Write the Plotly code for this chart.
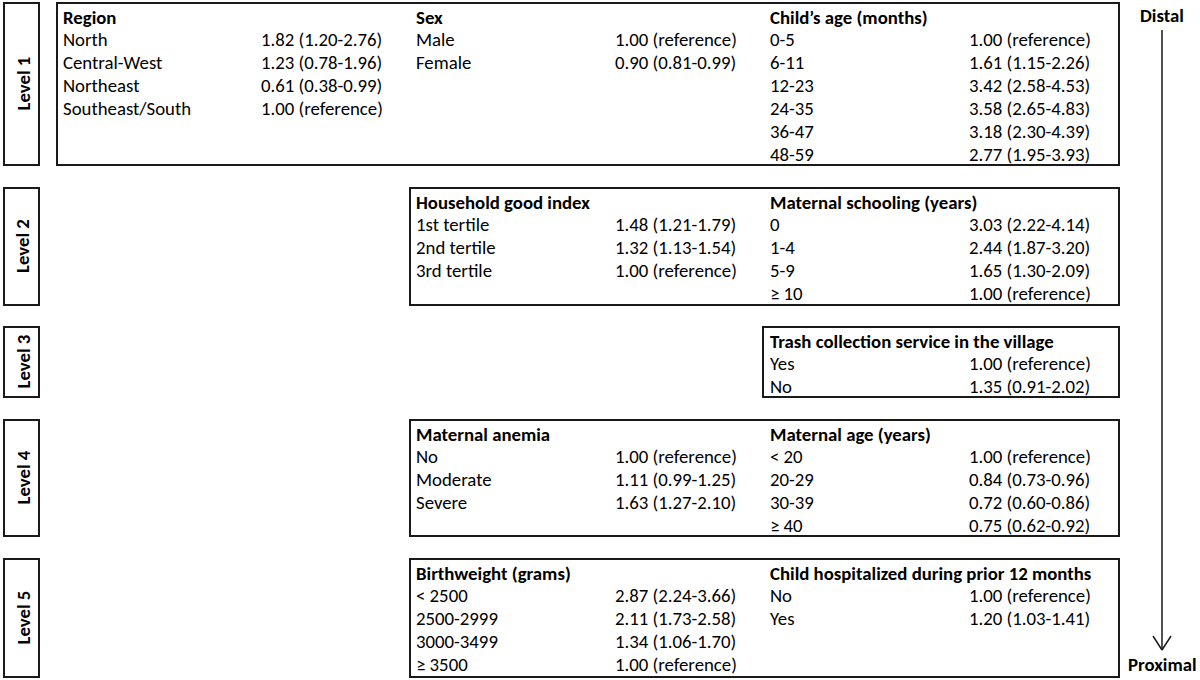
import plotly.graph_objects as go

# ---------------- data ----------------
LEVEL_NAMES = ["Level 1", "Level 2", "Level 3", "Level 4", "Level 5"]

REGION_LABELS = ["North", "Central-West", "Northeast", "Southeast/South"]
REGION_OR = ["1.82 (1.20-2.76)", "1.23 (0.78-1.96)", "0.61 (0.38-0.99)", "1.00 (reference)"]

SEX_LABELS = ["Male", "Female"]
SEX_OR = ["1.00 (reference)", "0.90 (0.81-0.99)"]

CHILD_AGE_LABELS = ["0-5", "6-11", "12-23", "24-35", "36-47", "48-59"]
CHILD_AGE_OR = ["1.00 (reference)", "1.61 (1.15-2.26)", "3.42 (2.58-4.53)",
                "3.58 (2.65-4.83)", "3.18 (2.30-4.39)", "2.77 (1.95-3.93)"]

GOODS_LABELS = ["1st tertile", "2nd tertile", "3rd tertile"]
GOODS_OR = ["1.48 (1.21-1.79)", "1.32 (1.13-1.54)", "1.00 (reference)"]

SCHOOL_LABELS = ["0", "1-4", "5-9", "≥ 10"]
SCHOOL_OR = ["3.03 (2.22-4.14)", "2.44 (1.87-3.20)", "1.65 (1.30-2.09)", "1.00 (reference)"]

TRASH_LABELS = ["Yes", "No"]
TRASH_OR = ["1.00 (reference)", "1.35 (0.91-2.02)"]

ANEMIA_LABELS = ["No", "Moderate", "Severe"]
ANEMIA_OR = ["1.00 (reference)", "1.11 (0.99-1.25)", "1.63 (1.27-2.10)"]

MAT_AGE_LABELS = ["< 20", "20-29", "30-39", "≥ 40"]
MAT_AGE_OR = ["1.00 (reference)", "0.84 (0.73-0.96)", "0.72 (0.60-0.86)", "0.75 (0.62-0.92)"]

BIRTHW_LABELS = ["< 2500", "2500-2999", "3000-3499", "≥ 3500"]
BIRTHW_OR = ["2.87 (2.24-3.66)", "2.11 (1.73-2.58)", "1.34 (1.06-1.70)", "1.00 (reference)"]

HOSP_LABELS = ["No", "Yes"]
HOSP_OR = ["1.00 (reference)", "1.20 (1.03-1.41)"]

# (level index, column index, header, labels, values)
PANELS = [
    (0, 0, "Region", REGION_LABELS, REGION_OR),
    (0, 1, "Sex", SEX_LABELS, SEX_OR),
    (0, 2, "Child’s age (months)", CHILD_AGE_LABELS, CHILD_AGE_OR),
    (1, 1, "Household good index", GOODS_LABELS, GOODS_OR),
    (1, 2, "Maternal schooling (years)", SCHOOL_LABELS, SCHOOL_OR),
    (2, 2, "Trash collection service in the village", TRASH_LABELS, TRASH_OR),
    (3, 1, "Maternal anemia", ANEMIA_LABELS, ANEMIA_OR),
    (3, 2, "Maternal age (years)", MAT_AGE_LABELS, MAT_AGE_OR),
    (4, 1, "Birthweight (grams)", BIRTHW_LABELS, BIRTHW_OR),
    (4, 2, "Child hospitalized during prior 12 months", HOSP_LABELS, HOSP_OR),
]

# ---------------- layout geometry ----------------
LEVEL_TOP = [3, 188, 327, 420, 559]
LEVEL_BOTTOM = [165, 305, 397, 536, 677]
BOX_LEFT = [57, 410, 763, 410, 410]
BOX_RIGHT = 1119
LVL_BOX_X = (4, 39)
COL_LABEL_X = [61, 414, 768]
COL_VALUE_X = [259, 613, 967]
ROW_STEP = 22.9
HEADER_OFFSET = 14

FONT = "Calibri, Carlito, Lato, sans-serif"
FS = 18.8
LINE_COLOR = "#1a1a1a"

fig = go.Figure()
shapes = []
annotations = []

for i, name in enumerate(LEVEL_NAMES):
    top, bot = LEVEL_TOP[i], LEVEL_BOTTOM[i]
    shapes.append(dict(type="rect", x0=LVL_BOX_X[0], x1=LVL_BOX_X[1], y0=top, y1=bot,
                       line=dict(color=LINE_COLOR, width=2), fillcolor="white"))
    shapes.append(dict(type="rect", x0=BOX_LEFT[i], x1=BOX_RIGHT, y0=top, y1=bot,
                       line=dict(color=LINE_COLOR, width=2), fillcolor="rgba(0,0,0,0)"))
    annotations.append(dict(x=(LVL_BOX_X[0] + LVL_BOX_X[1]) / 2 + 1, y=(top + bot) / 2,
                            text="<b>%s</b>" % name, textangle=-90, showarrow=False,
                            xanchor="center", yanchor="middle",
                            font=dict(family=FONT, size=FS, color="black")))

for lvl, col, header, labels, values in PANELS:
    y0 = LEVEL_TOP[lvl] + HEADER_OFFSET
    annotations.append(dict(x=COL_LABEL_X[col], y=y0, text="<b>%s</b>" % header,
                            showarrow=False, xanchor="left", yanchor="middle",
                            font=dict(family=FONT, size=FS, color="black")))
    for k, (lab, val) in enumerate(zip(labels, values)):
        yy = y0 + (k + 1) * ROW_STEP
        annotations.append(dict(x=COL_LABEL_X[col], y=yy, text=lab, showarrow=False,
                                xanchor="left", yanchor="middle",
                                font=dict(family=FONT, size=FS, color="black")))
        annotations.append(dict(x=COL_VALUE_X[col], y=yy, text=val, showarrow=False,
                                xanchor="left", yanchor="middle",
                                font=dict(family=FONT, size=FS, color="black")))

# Distal -> Proximal arrow
AX = 1162
shapes.append(dict(type="line", x0=AX, x1=AX, y0=30, y1=650, line=dict(color=LINE_COLOR, width=1.5)))
shapes.append(dict(type="line", x0=AX - 9, x1=AX, y0=636, y1=650, line=dict(color=LINE_COLOR, width=1.5)))
shapes.append(dict(type="line", x0=AX + 9, x1=AX, y0=636, y1=650, line=dict(color=LINE_COLOR, width=1.5)))
annotations.append(dict(x=AX, y=15, text="<b>Distal</b>", showarrow=False, xanchor="center",
                        yanchor="middle", font=dict(family=FONT, size=FS, color="black")))
annotations.append(dict(x=AX, y=664, text="<b>Proximal</b>", showarrow=False, xanchor="center",
                        yanchor="middle", font=dict(family=FONT, size=FS, color="black")))

fig.update_layout(
    width=1200, height=680,
    margin=dict(l=0, r=0, t=0, b=0),
    paper_bgcolor="white", plot_bgcolor="white",
    xaxis=dict(range=[0, 1200], visible=False, fixedrange=True),
    yaxis=dict(range=[680, 0], visible=False, fixedrange=True),
    shapes=shapes, annotations=annotations, showlegend=False,
)

fig.write_html("out.html",
               config={"displayModeBar": False, "staticPlot": True},
               post_script="document.body.style.margin='0';document.body.style.overflow='hidden';")
